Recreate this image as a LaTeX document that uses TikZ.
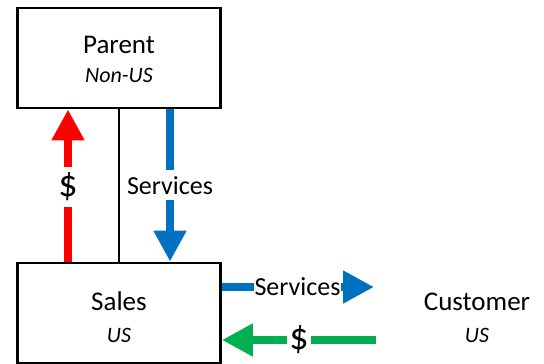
\documentclass[tikz,border=0pt]{standalone}
\usepackage{fontspec}
\setmainfont{Carlito}
\usetikzlibrary{arrows.meta}
\definecolor{arrred}{HTML}{FF0000}
\definecolor{arrblue}{HTML}{0070C0}
\definecolor{arrgreen}{HTML}{00B050}
\tikzset{
  box/.style={draw,line width=2.8pt,minimum width=203pt,minimum height=100pt,inner sep=0pt},
  titletext/.style={anchor=base,inner sep=0pt,font=\fontsize{27}{32}\selectfont},
  subtext/.style={anchor=base,inner sep=0pt,font=\fontsize{22}{26}\selectfont\itshape},
  flow/.style={line width=8pt,-{Triangle[width=31pt,length=31pt]}},
  lbl/.style={fill=white,inner xsep=1.5pt,font=\fontsize{26}{30}\selectfont},
  dollar/.style={fill=white,inner xsep=2pt,font=\fontsize{38}{42}\selectfont},
}
\begin{document}
\begin{tikzpicture}[x=1pt,y=-1pt]
\useasboundingbox (0,0) rectangle (544,364);
% boxes
\node[box] (parent) at (119,58) {};
\node[box] (sales) at (119,313) {};
\node[titletext] (parentname) at (119,53) {Parent};
\node[subtext] (parentsub) at (119,82) {Non-US};
\node[titletext] (salesname) at (119,310) {Sales};
\node[subtext] (salessub) at (119,342) {US};
\node[titletext] (customer) at (477,310) {Customer};
\node[subtext] (customersub) at (477,342) {US};
% helper coordinates
\coordinate (xred) at (68,0);
\coordinate (xblack) at (119,0);
\coordinate (xblue) at (170,0);
\coordinate (yserv) at (0,287);
\coordinate (ymoney) at (0,340);
\coordinate (servend) at (374,287);
\coordinate (moneystart) at (376,340);
% black link
\draw[line width=2.5pt] (parent.south -| xblack) -- (sales.north -| xblack);
% red $ arrow up
\draw[flow,arrred] (sales.north -| xred) -- (parent.south -| xred);
% blue services arrow down
\draw[flow,arrblue] (parent.south -| xblue) -- (sales.north -| xblue);
% blue services arrow right
\draw[flow,arrblue] (sales.east |- yserv) -- (servend);
% green $ arrow left
\draw[flow,arrgreen] (moneystart) -- (sales.east |- ymoney);
% labels
\node[dollar,text height=22pt,text depth=4pt,inner ysep=7pt] (dollarup) at (68,187) {\$};
\node[lbl,text height=18pt,text depth=0pt,inner ysep=6pt] (servdown) at (170,185) {Services};
\node[lbl,inner xsep=0.5pt,inner ysep=0pt] (servright) at (297.5,287) {Services};
\node[dollar,inner ysep=0pt] (dollarleft) at (299,340) {\$};
\end{tikzpicture}
\end{document}
